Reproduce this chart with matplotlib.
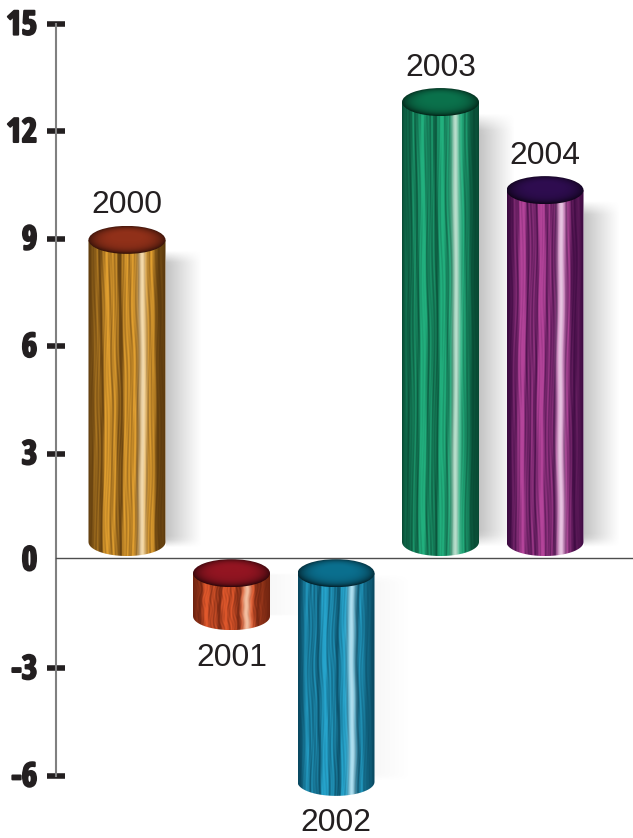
import matplotlib
matplotlib.use("Agg")
import matplotlib.pyplot as plt
import matplotlib.patheffects as pe
from matplotlib.colors import to_rgb
from matplotlib.patches import Ellipse, Polygon
import numpy as np

years = ["2000", "2001", "2002", "2003", "2004"]
values = [8.97, -1.54, -6.17, 12.82, 10.36]
y_ticks = [15, 12, 9, 6, 3, 0, -3, -6]

# dark, mid, highlight, rim (inside of the tube)
dark_cols = ["#704610", "#8a2c14", "#0b5a78", "#0a5c40", "#4a0c50"]
mid_cols = ["#e2a030", "#e0582c", "#26a4cc", "#22b07e", "#b4449a"]
high_cols = ["#fce6bc", "#f8cdb0", "#c0e8f6", "#cdeedd", "#eed4ea"]
rim_cols = ["#8a2e18", "#8c1420", "#0a6a88", "#0a6c48", "#2c0c4c"]

PX_X = 104.5   # px per category
PX_Y = 35.8    # px per unit
bar_w = 77 / PX_X
oval_h = 28 / PX_Y
pos_base = 0.53   # bars stand a bit off the zero line
neg_base = -0.34


def tube_texture(i, col_dark, col_mid, col_high):
    u = np.linspace(0, 1, 120)
    v = np.linspace(0, 1, 400)
    U, V = np.meshgrid(u, v)
    ph = 1.3 + i * 2.1
    warp = U + 0.007 * np.sin(V * 7.3 + ph) + 0.004 * np.sin(V * 23.1 + 2 * ph) * np.sin(U * 11 + ph)
    streak = (0.34 * np.sin(warp * 23.7 + ph) + 0.26 * np.sin(warp * 51.3 + 1.7 * ph)
              + 0.2 * np.sin(warp * 97.9 + 0.6 * ph + 1.5 * np.sin(V * 5.1 + ph))
              + 0.2 * np.sin(warp * 171.1 + 2.3 * ph + 2.5 * np.sin(V * 13.7 + U * 9)))
    streak = 0.5 + 0.5 * np.clip(streak * 1.6, -1, 1)
    edge = np.clip(np.sin(np.pi * U) * 2.2, 0, 1)
    right = 1 - 0.45 * np.clip((U - 0.8) / 0.08, 0, 1)
    t = np.clip((0.12 + 1.0 * streak) * edge * right, 0, 1)[..., None]
    d, m, h = np.array(to_rgb(col_dark)), np.array(to_rgb(col_mid)), np.array(to_rgb(col_high))
    img = d * 0.8 + (m - d * 0.8) * t
    glow = np.exp(-((warp - 0.70) / 0.05) ** 2)[..., None]
    return img + (h - img) * glow * 0.9


def oval_texture(col):
    u = np.linspace(-1, 1, 100)
    v = np.linspace(-1, 1, 50)
    U, V = np.meshgrid(u, v)
    c = np.array(to_rgb(col))
    r = U ** 2 + V ** 2
    shade = np.clip(1.05 - 0.6 * r ** 2 - 0.1 * V, 0.3, 1.05)[..., None]
    return np.clip(c * shade, 0, 1)


def draw_shadow(ax, x, top, base, alpha):
    u = np.linspace(0, 1, 80)
    v = np.linspace(0, 1, 80)
    U, V = np.meshgrid(u, v)
    a = alpha * (1 - U) ** 1.1 * np.clip(V / 0.04, 0, 1) * np.clip((1 - V) / 0.03, 0, 1)
    rgba = np.zeros((80, 80, 4))
    rgba[..., :3] = 0.62
    rgba[..., 3] = a
    ax.imshow(rgba, extent=(x + bar_w / 2, x + bar_w / 2 + 36 / PX_X, base, top),
              origin="upper", aspect="auto", zorder=1, interpolation="bilinear")


plt.rcParams["font.family"] = ["Liberation Sans", "DejaVu Sans"]
fig = plt.figure(figsize=(6.33, 8.38), dpi=100)
ax = fig.add_axes([0, 0, 1, 1])

for i, (year, val) in enumerate(zip(years, values)):
    base = pos_base if val > 0 else neg_base
    top_c, bot_c = max(val, base), min(val, base)
    if val > 0:
        draw_shadow(ax, i, top_c - 10 / PX_Y, bot_c - 0.2, 0.62)
    else:
        draw_shadow(ax, i, top_c, bot_c, 0.08)

    # body: straight sides and the lower half of the oval
    th = np.linspace(np.pi, 2 * np.pi, 40)
    low = np.column_stack([i + bar_w / 2 * np.cos(th), bot_c + oval_h / 2 * np.sin(th)])
    outline = np.vstack([[[i - bar_w / 2, top_c]], low, [[i + bar_w / 2, top_c]]])
    clip = Polygon(outline, closed=True, transform=ax.transData, fc="none", ec="none")
    ax.add_patch(clip)
    body = ax.imshow(tube_texture(i, dark_cols[i], mid_cols[i], high_cols[i]),
                     extent=(i - bar_w / 2, i + bar_w / 2, bot_c - oval_h / 2, top_c),
                     aspect="auto", zorder=2, interpolation="bilinear")
    body.set_clip_path(clip)

    # open top of the tube
    oval = Ellipse((i, top_c), bar_w, oval_h, transform=ax.transData, fc="none", ec="none")
    ax.add_patch(oval)
    cap = ax.imshow(oval_texture(rim_cols[i]),
                    extent=(i - bar_w / 2, i + bar_w / 2, top_c - oval_h / 2, top_c + oval_h / 2),
                    aspect="auto", zorder=3, interpolation="bilinear")
    cap.set_clip_path(oval)

    off = 34.5 if val > 0 else -41.5
    ax.annotate(year, (i, val), xytext=(0.2, off * 0.72), textcoords="offset points",
                ha="center", va="center", fontsize=22.9, color="#231f20", zorder=5)

ax.set_xlim(-127 / PX_X, (633 - 127) / PX_X)
ax.set_ylim(15 + 24 / PX_Y - 838 / PX_Y, 15 + 24 / PX_Y)
ax.patch.set_alpha(0)

for side in ["top", "right", "bottom"]:
    ax.spines[side].set_visible(False)
ax.spines["left"].set_position(("data", (56 - 127) / PX_X))
ax.spines["left"].set_bounds(-6, 15)
ax.spines["left"].set_color("#808080")
ax.spines["left"].set_linewidth(1.5)

# no tick mark at 0, the zero line takes its place
ax.set_xticks([])
ax.set_yticks([t for t in y_ticks if t != 0])
ax.tick_params(axis="y", direction="inout", length=13, width=4, color="#231f20", labelleft=False)

for t in y_ticks:
    ax.annotate(str(t), ((56 - 127) / PX_X, t), xytext=(-13.5, -1.5 if t != 0 else -0.5), textcoords="offset points",
                ha="right", va="center", fontsize=24, fontweight="bold", color="#231f20",
                family=["Open Sans Condensed", "Liberation Sans"],
                path_effects=[pe.withStroke(linewidth=1.5, foreground="#231f20")])

# zero line sits a little above the 0 tick position in the source
ax.plot([(56 - 127) / PX_X, (633 - 127) / PX_X], [0.07, 0.07], color="#4d4d4d", lw=1.0, zorder=4)

fig.savefig("out.png", dpi=100)
